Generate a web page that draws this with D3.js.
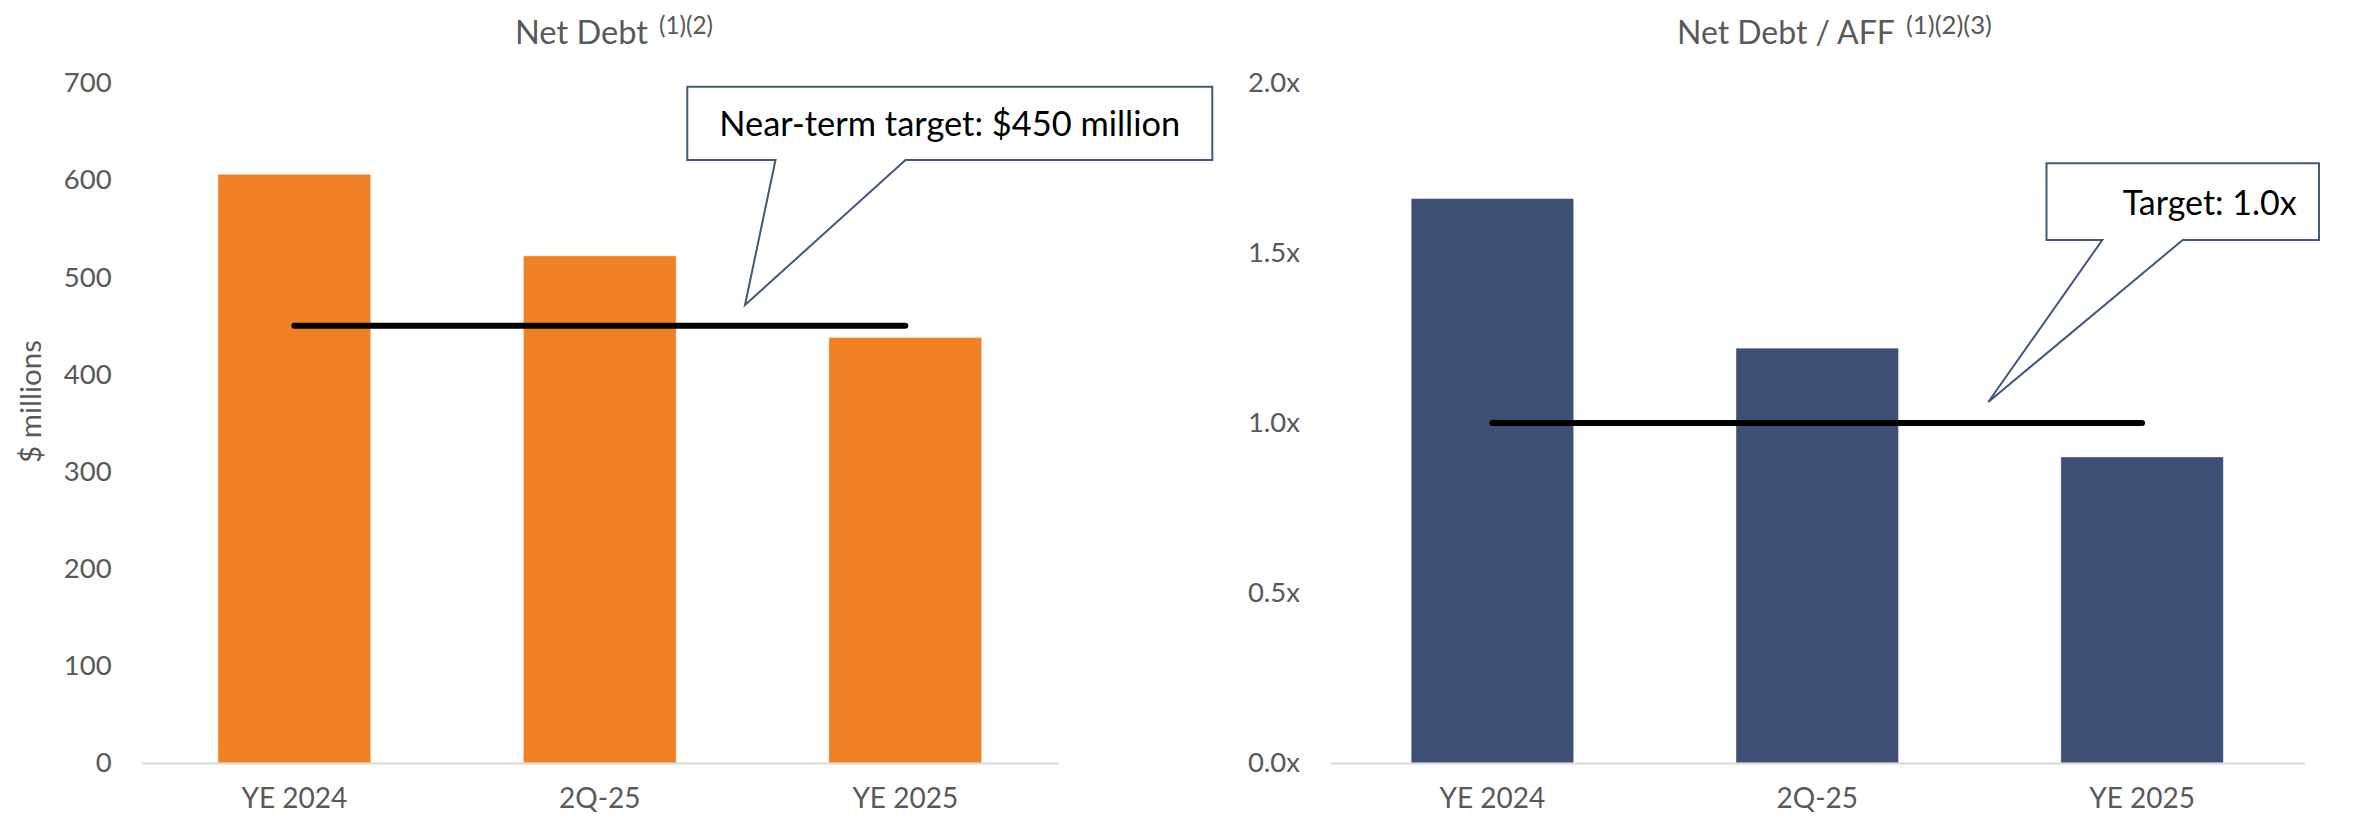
<!DOCTYPE html>
<html>
<head>
<meta charset="utf-8">
<script src="https://cdn.jsdelivr.net/npm/d3@7"></script>
<style>
  html, body { margin: 0; padding: 0; background: #ffffff; }
  svg { display: block; }
  text { font-family: Lato, "Open Sans", sans-serif; }
</style>
</head>
<body>
<svg id="chart" width="2361" height="817"></svg>
<script>
// ---------------- data ----------------
const categories = ["YE 2024", "2Q-25", "YE 2025"];
const netDebtValues = [606, 522, 438];          // $ millions
const netDebtAffValues = [1.66, 1.22, 0.90];    // x
const netDebtTicks = [0, 100, 200, 300, 400, 500, 600, 700];
const ratioTicks = [0, 0.5, 1.0, 1.5, 2.0];
const netDebtTarget = 450;
const ratioTarget = 1.0;
const leftTitle = "Net Debt";
const leftTitleSup = "(1)(2)";
const rightTitle = "Net Debt / AFF";
const rightTitleSup = "(1)(2)(3)";
const leftYLabel = "$ millions";
const leftCallout = "Near-term target: $450 million";
const rightCallout = "Target: 1.0x";

// ---------------- style ----------------
const ORANGE = "#F08024";
const NAVY = "#3D4F75";
const GRAY_TEXT = "#595959";
const AXIS_GRAY = "#D9D9D9";
const CALLOUT_STROKE = "#44577D";

const svg = d3.select("#chart");
svg.append("rect").attr("width", 2361).attr("height", 817).attr("fill", "#fff");

function fitWidth(sel, target) {
  const w = sel.node().getComputedTextLength();
  const fs = parseFloat(sel.attr("font-size"));
  sel.attr("font-size", fs * target / w);
  return sel;
}

function drawPanel(cfg) {
  const g = svg.append("g");
  const x = d3.scaleBand().domain(categories)
    .range([cfg.x0, cfg.x1]).paddingInner(0.5).paddingOuter(0.25);
  const y = d3.scaleLinear().domain(cfg.domain).range([cfg.yBase, cfg.yTop]);

  // y axis (labels only)
  const yAxis = g.append("g")
    .attr("transform", `translate(${cfg.x0},0)`)
    .call(d3.axisLeft(y).tickValues(cfg.ticks).tickFormat(cfg.fmt).tickSize(0).tickPadding(30));
  yAxis.select(".domain").remove();
  yAxis.selectAll("text")
    .attr("font-family", "Lato, 'Open Sans', sans-serif")
    .attr("font-size", 27.5).attr("fill", GRAY_TEXT);

  // bars
  g.append("g").selectAll("rect")
    .data(cfg.values)
    .join("rect")
    .attr("x", (d, i) => x(categories[i]))
    .attr("width", x.bandwidth())
    .attr("y", d => y(d))
    .attr("height", d => y(0) - y(d))
    .attr("fill", cfg.color)
    .attr("stroke", "#ffffff").attr("stroke-opacity", 0.35).attr("stroke-width", 1);

  // x axis
  const xAxis = g.append("g")
    .attr("transform", `translate(0,${cfg.yBase})`)
    .call(d3.axisBottom(x).tickSize(0).tickPadding(0).tickSizeOuter(0));
  xAxis.select(".domain").attr("stroke", AXIS_GRAY).attr("stroke-width", 2);
  xAxis.selectAll("text")
    .attr("font-family", "Lato, 'Open Sans', sans-serif")
    .attr("font-size", 28).attr("fill", GRAY_TEXT)
    .attr("dy", null).attr("y", 45);

  // target line
  const bw = x.bandwidth();
  g.append("line")
    .attr("x1", x(categories[0]) + bw / 2)
    .attr("x2", x(categories[categories.length - 1]) + bw / 2)
    .attr("y1", y(cfg.target)).attr("y2", y(cfg.target))
    .attr("stroke", "#000").attr("stroke-width", 6).attr("stroke-linecap", "round");

  // title
  const t = g.append("text")
    .attr("x", cfg.titleX).attr("y", 44)
    .attr("font-size", 30).attr("fill", GRAY_TEXT)
    .text(cfg.title);
  fitWidth(t, cfg.titleW);
  const s = g.append("text")
    .attr("x", cfg.supX).attr("y", 34)
    .attr("font-size", 20).attr("fill", GRAY_TEXT)
    .text(cfg.sup);
  fitWidth(s, cfg.supW);

  // callout
  const c = cfg.callout;
  const path = d3.path();
  path.moveTo(c.L, c.T);
  path.lineTo(c.R, c.T);
  path.lineTo(c.R, c.B);
  path.lineTo(c.p2, c.B);
  path.lineTo(c.tipX, c.tipY);
  path.lineTo(c.p1, c.B);
  path.lineTo(c.L, c.B);
  path.closePath();
  g.append("path").attr("d", path.toString())
    .attr("fill", "#fff").attr("stroke", CALLOUT_STROKE).attr("stroke-width", 2)
    .attr("stroke-linejoin", "miter");
  const ct = g.append("text")
    .attr("x", c.textX).attr("y", c.textY)
    .attr("font-size", 32).attr("fill", "#000")
    .text(c.text);
  fitWidth(ct, c.textW);

  return { x, y };
}

drawPanel({
  x0: 141.6, x1: 1058, yTop: 83, yBase: 763,
  domain: [0, 700], ticks: netDebtTicks, fmt: d3.format("d"),
  values: netDebtValues, color: ORANGE, target: netDebtTarget,
  title: leftTitle, titleX: 515, titleW: 133, sup: leftTitleSup, supX: 659, supW: 54,
  callout: { L: 687.3, T: 86.7, R: 1212.3, B: 160, p1: 775.5, p2: 905.5, tipX: 745, tipY: 305,
             text: leftCallout, textX: 719.3, textY: 135.7, textW: 461 }
});

drawPanel({
  x0: 1330, x1: 2304.5, yTop: 83, yBase: 763,
  domain: [0, 2], ticks: ratioTicks, fmt: d => d3.format(".1f")(d) + "x",
  values: netDebtAffValues, color: NAVY, target: ratioTarget,
  title: rightTitle, titleX: 1677, titleW: 218, sup: rightTitleSup, supX: 1906, supW: 86,
  callout: { L: 2046.5, T: 163.3, R: 2319, B: 240, p1: 2102.3, p2: 2182.7, tipX: 1988.3, tipY: 402,
             text: rightCallout, textX: 2122.7, textY: 215, textW: 174 }
});

// y-axis title (left)
const yl = svg.append("text")
  .attr("transform", "translate(41,401.5) rotate(-90)")
  .attr("text-anchor", "middle")
  .attr("font-size", 28).attr("fill", GRAY_TEXT)
  .text(leftYLabel);
fitWidth(yl, 123);
</script>
</body>
</html>
